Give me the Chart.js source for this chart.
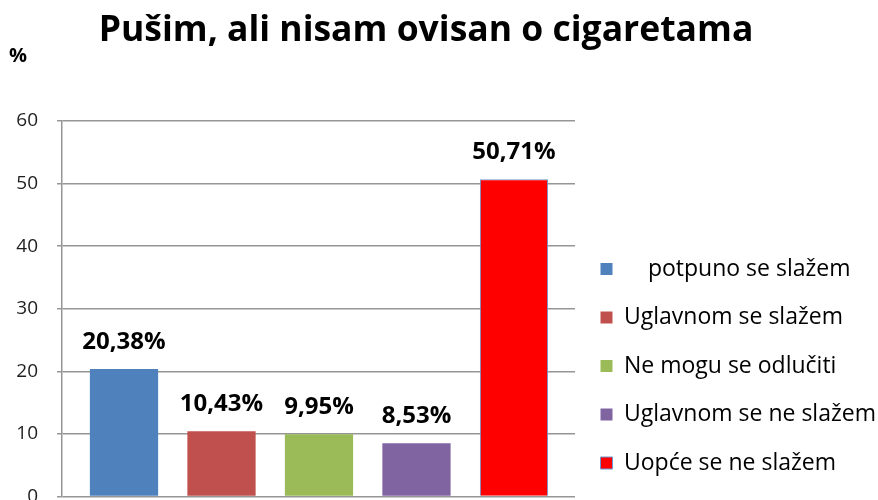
<!DOCTYPE html>
<html>
<head>
<meta charset="utf-8">
<script src="https://cdn.jsdelivr.net/npm/chart.js@4.4.1/dist/chart.umd.min.js"></script>
<style>
    html, body { margin: 0; padding: 0; background: #fff; overflow: hidden; }
    #wrap { width: 878px; height: 527px; }
</style>
</head>
<body>
<div id="wrap"><canvas id="chart" width="878" height="527"></canvas></div>
<script>
// podaci
const chartTitle = 'Pušim, ali nisam ovisan o cigaretama';
const yAxisTitle = '%';
const categories = ['    potpuno se slažem', 'Uglavnom se slažem', 'Ne mogu se odlučiti', 'Uglavnom se ne slažem', 'Uopće se ne slažem'];
const values = [20.38, 10.43, 9.95, 8.53, 50.71];
const yTicks = [0, 10, 20, 30, 40, 50, 60];
const barColors = ['#4F81BD', '#C0504D', '#9BBB59', '#8064A2', '#FF0000'];
const barBorders = ['#4F81BD', '#C0504D', '#9BBB59', '#8064A2', '#6A97D4'];
const barBorderWidths = [0, 0, 0, 0, 1];

const FONT = '"Open Sans", Lato, sans-serif';

// naslov i oznaka osi (%)
const headings = {
    id: 'headings',
    afterDraw(chart) {
        const ctx = chart.ctx;
        ctx.save();
        ctx.fillStyle = '#000';
        ctx.textBaseline = 'alphabetic';
        ctx.textAlign = 'center';
        ctx.font = 'bold 35.5px ' + FONT;
        ctx.fillText(chartTitle, 426, 41);
        ctx.textAlign = 'left';
        ctx.font = 'bold 20px ' + FONT;
        ctx.fillText(yAxisTitle, 9, 62);
        ctx.restore();
    }
};

// postotak iznad stupaca
const valueLabels = {
    id: 'valueLabels',
    afterDatasetsDraw(chart) {
        const ctx = chart.ctx;
        const meta = chart.getDatasetMeta(0);
        ctx.save();
        ctx.font = 'bold 24px ' + FONT;
        ctx.fillStyle = '#000';
        ctx.textAlign = 'center';
        ctx.textBaseline = 'alphabetic';
        meta.data.forEach((bar, i) => {
            const txt = values[i].toFixed(2).replace('.', ',') + '%';
            ctx.fillText(txt, bar.x, bar.y - 20);
        });
        ctx.restore();
    }
};

const points = categories.map((c, i) => ({ x: i, y: values[i] }));

new Chart(document.getElementById('chart').getContext('2d'), {
    type: 'bar',
    data: {
        labels: categories,
        datasets: [{
            data: points,
            backgroundColor: barColors,
            borderColor: barBorders,
            borderWidth: barBorderWidths,
            barPercentage: 0.7,
            categoryPercentage: 1
        }]
    },
    options: {
        responsive: false,
        animation: false,
        layout: { padding: { top: 121, left: 16, right: 0, bottom: 27 } },
        scales: {
            x: {
                type: 'linear',
                display: false,
                offset: false,
                min: -0.636,
                max: 4.626,
                afterBuildTicks: (axis) => { axis.ticks = categories.map((c, i) => ({ value: i })); }
            },
            y: {
                min: 0,
                max: 60,
                afterBuildTicks: (axis) => { axis.ticks = yTicks.map(v => ({ value: v })); },
                afterFit: (axis) => { axis.width = 46; },
                ticks: {
                    color: '#1e1e1e',
                    padding: 19,
                    font: { family: FONT, size: 19 }
                },
                grid: {
                    color: '#969696',
                    lineWidth: 1.5,
                    tickLength: 5
                },
                border: { color: '#969696', width: 1.5 }
            }
        },
        plugins: {
            title: { display: false },
            legend: {
                position: 'right',
                align: 'end',
                maxWidth: 303,
                labels: {
                    color: '#1a1a1a',
                    boxWidth: 12,
                    boxHeight: 12,
                    padding: 25.5,
                    font: { family: FONT, size: 23 },
                    generateLabels: () => categories.map((c, i) => ({
                        text: c,
                        fillStyle: barColors[i],
                        strokeStyle: barBorders[i],
                        lineWidth: barBorderWidths[i],
                        index: i
                    }))
                }
            },
            tooltip: { enabled: false }
        }
    },
    plugins: [valueLabels, headings]
});
</script>
</body>
</html>
